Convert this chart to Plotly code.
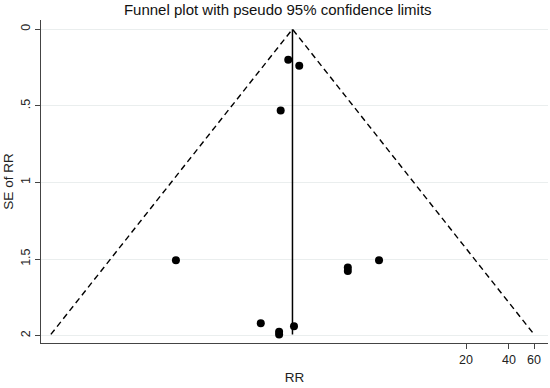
import math
import plotly.graph_objects as go

# Data (RR on log scale, SE of log RR)
study_rr = [1.13, 1.35, 1.00, 0.184, 2.96, 2.96, 4.90, 0.725, 0.975, 0.975, 1.24]
study_se = [0.200, 0.238, 0.531, 1.508, 1.555, 1.578, 1.508, 1.919, 1.975, 1.992, 1.939]
pooled_rr = 1.21
z95 = 1.96

x_ticks = [20, 40, 60]
x_tick_text = ["20", "40", "60"]
y_ticks = [0, 0.5, 1, 1.5, 2]
y_tick_text = ["0", ".5", "1", "1.5", "2"]

se_max = max(study_se)
lo_rr = pooled_rr * math.exp(-z95 * se_max)
hi_rr = pooled_rr * math.exp(z95 * se_max)

font_family = "Liberation Sans, Arial, sans-serif"

fig = go.Figure()

# pseudo 95% confidence limits
fig.add_trace(go.Scatter(
    x=[lo_rr, pooled_rr, hi_rr], y=[se_max, 0, se_max],
    mode="lines", line=dict(color="black", width=1.4, dash="6px,4px"),
    hoverinfo="skip", showlegend=False))

# pooled estimate line
fig.add_trace(go.Scatter(
    x=[pooled_rr, pooled_rr], y=[0, se_max],
    mode="lines", line=dict(color="black", width=1.5),
    hoverinfo="skip", showlegend=False))

# studies
fig.add_trace(go.Scatter(
    x=study_rr, y=study_se, mode="markers",
    marker=dict(color="black", size=8, line=dict(width=0)),
    showlegend=False))

fig.update_layout(
    width=550, height=388,
    margin=dict(l=41, r=2, t=20, b=45),
    paper_bgcolor="white", plot_bgcolor="white",
    font=dict(family=font_family, color="#222", size=12),
    title=dict(text="Funnel plot with pseudo 95% confidence limits",
               x=0.467, xref="paper", xanchor="center",
               y=1 - 10 / 388, yref="container", yanchor="middle",
               font=dict(size=15, color="#111", family=font_family)),
    xaxis=dict(type="log", range=[-1.682, 1.876],
               tickvals=x_ticks, ticktext=x_tick_text,
               showgrid=False, zeroline=False,
               showline=True, linecolor="#444", linewidth=1,
               ticks="outside", ticklen=5, tickcolor="#444",
               tickfont=dict(size=12.5, color="#222"),
               title=dict(text="RR", font=dict(size=13.5, color="#222"), standoff=6)),
    yaxis=dict(range=[2.048, -0.06],
               tickvals=y_ticks, ticktext=y_tick_text, tickangle=-90,
               showgrid=True, gridcolor="#eaeeee", gridwidth=1,
               zeroline=False,
               showline=True, linecolor="#444", linewidth=1,
               ticks="outside", ticklen=5, tickcolor="#444",
               tickfont=dict(size=12.5, color="#222"),
               title=dict(text="SE of RR", font=dict(size=13.5, color="#222"), standoff=2)),
)

fig.write_html("out.html",
               config={"displayModeBar": False},
               post_script="document.body.style.margin='0';document.body.style.padding='0';")
